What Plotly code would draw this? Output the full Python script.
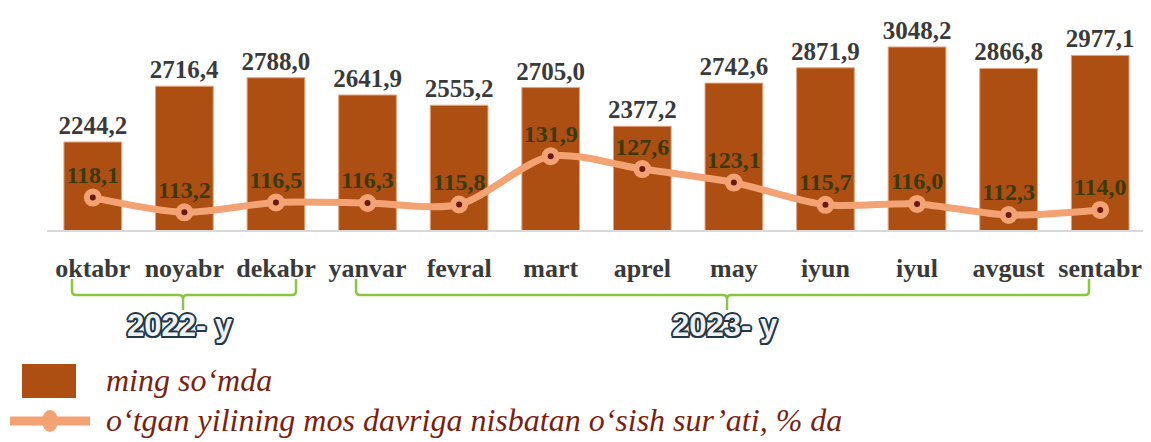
import plotly.graph_objects as go

months = ["oktabr", "noyabr", "dekabr", "yanvar", "fevral", "mart", "aprel",
          "may", "iyun", "iyul", "avgust", "sentabr"]
wage = [2244.2, 2716.4, 2788.0, 2641.9, 2555.2, 2705.0, 2377.2, 2742.6,
        2871.9, 3048.2, 2866.8, 2977.1]
growth = [118.1, 113.2, 116.5, 116.3, 115.8, 131.9, 127.6, 123.1, 115.7,
          116.0, 112.3, 114.0]
years = ["2022- y", "2023- y"]
legend_labels = ["ming so\u2018mda",
                 "o\u2018tgan yilining mos davriga nisbatan o\u2018sish sur\u2019ati, % da"]

OFF = 8  # page body margin
W, H = 1151 - OFF, 442 - OFF
ML, MR, MT, MB = 47 - OFF, 5, 10 - OFF, 212
PW, PH = W - ML - MR, H - MT - MB


def X(px):
    return (px - OFF - ML) / PW


def Y(py):
    return (H - MB - (py - OFF)) / PH


def fmt(v):
    return f"{v:.1f}".replace(".", ",")


BAR = "#AD4E12"
LINE = "#F3A273"
GREEN = "#8CC63E"

fig = go.Figure()
fig.add_trace(go.Bar(
    x=months, y=wage, name=legend_labels[0],
    marker=dict(color=BAR, line=dict(color="#E7A27A", width=1)),
    text=[fmt(v) for v in wage], textposition="outside", constraintext="none",
    textfont=dict(family="Liberation Serif", size=25, color="#3A3A3A", weight="bold"),
    cliponaxis=False, showlegend=False,
))
fig.add_trace(go.Scatter(
    x=months, y=growth, yaxis="y2", name=legend_labels[1],
    mode="lines+markers+text",
    line=dict(color=LINE, width=7, shape="spline", smoothing=0.8),
    marker=dict(size=12, color="#6B1712", line=dict(color=LINE, width=6)),
    text=[fmt(v) for v in growth], textposition="top center",
    textfont=dict(family="Liberation Serif", size=24, color="#3A3A0E", weight="bold"),
    cliponaxis=False, showlegend=False,
))

shapes = []


def bracket(x0, c, x1, ytop=279, yh=295, ybot=310, r=4):
    p = (f"M {X(x0)},{Y(ytop)} L {X(x0)},{Y(yh - r)} Q {X(x0)},{Y(yh)} {X(x0 + r)},{Y(yh)} "
         f"L {X(c - r)},{Y(yh)} Q {X(c)},{Y(yh)} {X(c)},{Y(yh + r)} L {X(c)},{Y(ybot)} "
         f"M {X(c)},{Y(yh + r)} Q {X(c)},{Y(yh)} {X(c + r)},{Y(yh)} "
         f"L {X(x1 - r)},{Y(yh)} Q {X(x1)},{Y(yh)} {X(x1)},{Y(yh - r)} L {X(x1)},{Y(ytop)}")
    return dict(type="path", xref="paper", yref="paper", path=p,
                line=dict(color=GREEN, width=2.5))


shapes.append(bracket(72, 183, 296))
shapes.append(bracket(356, 727, 1089))

# legend swatches
shapes.append(dict(type="rect", xref="paper", yref="paper",
                   x0=X(22), x1=X(76), y0=Y(364), y1=Y(398),
                   fillcolor=BAR, line=dict(width=0)))
shapes.append(dict(type="line", xref="paper", yref="paper",
                   x0=X(10), x1=X(90), y0=Y(421), y1=Y(421),
                   line=dict(color=LINE, width=9)))
shapes.append(dict(type="circle", xref="paper", yref="paper",
                   x0=X(42), x1=X(58), y0=Y(410), y1=Y(432),
                   fillcolor=LINE, line=dict(width=0)))

outline = "#243746"
shadow = ", ".join(f"{a}px {b}px 0 {outline}" for a, b in
                   [(-1.5, -1.5), (1.5, -1.5), (-1.5, 1.5), (1.5, 1.5),
                    (0, 2), (0, -2), (2, 0), (-2, 0)])
annotations = []
for txt, cx in zip(years, [180, 725]):
    annotations.append(dict(
        text=txt, xref="paper", yref="paper", x=X(cx), y=Y(325),
        xanchor="center", yanchor="middle", showarrow=False,
        font=dict(family="Liberation Sans", size=31, color="#EEF2F5",
                  weight="bold", shadow=shadow),
    ))
for txt, cy in zip(legend_labels, [380, 420]):
    annotations.append(dict(
        text=txt, xref="paper", yref="paper", x=X(104), y=Y(cy),
        xanchor="left", yanchor="middle", showarrow=False,
        font=dict(family="Liberation Serif", size=32, color="#7A1F12",
                  style="italic"),
    ))

fig.update_layout(
    width=W, height=H, autosize=False,
    margin=dict(l=ML, r=MR, t=MT, b=MB),
    paper_bgcolor="white", plot_bgcolor="white",
    bargap=0.37,
    xaxis=dict(showline=True, linecolor="#D9D9D9", linewidth=2,
               range=[-0.5, len(months) - 0.5],
               ticks="outside", ticklen=14, tickcolor="rgba(0,0,0,0)",
               tickfont=dict(family="Liberation Serif", size=26,
                             color="#3A3A3A", weight="bold"),
               showgrid=False, zeroline=False, fixedrange=True),
    yaxis=dict(visible=False, range=[1500, 3361], showgrid=False),
    yaxis2=dict(visible=False, overlaying="y", range=[107.3, 180.6],
                showgrid=False),
    shapes=shapes, annotations=annotations,
    showlegend=False,
)

fig.write_html("out.html")
